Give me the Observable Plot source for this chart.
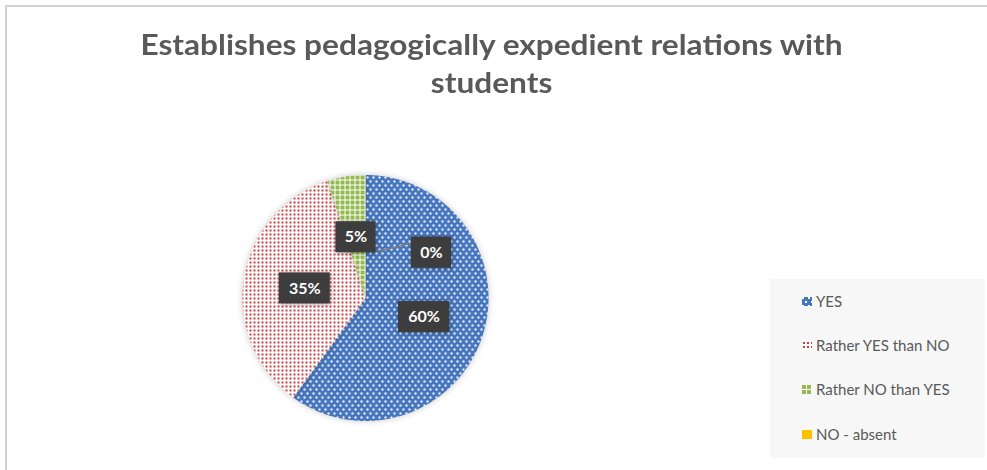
<!DOCTYPE html>
<html><head><meta charset="utf-8">
<script src="https://cdn.jsdelivr.net/npm/d3@7"></script>
<script src="https://cdn.jsdelivr.net/npm/@observablehq/plot@0.6"></script>
<style>
html,body{margin:0;padding:0;background:#fff;}
#wrap{position:relative;width:987px;height:470px;overflow:hidden;font-family:Lato,sans-serif;}
#frame{position:absolute;left:5px;top:5px;width:1000px;height:500px;border-left:2px solid #d2d2d2;border-top:2px solid #d2d2d2;}
#chart{position:absolute;left:0;top:0;}
#title{position:absolute;left:0;width:983px;top:25px;text-align:center;font-weight:700;font-size:29px;line-height:38px;color:#595959;transform:scaleX(1.09);transform-origin:491px 0;}
#legend{position:absolute;left:770px;top:279px;width:215px;height:179px;background:#f7f7f7;}
.item{position:absolute;left:32px;height:20px;display:flex;align-items:center;font-size:15px;color:#595959;white-space:nowrap;}
.item svg{margin-right:4px;}
</style></head>
<body>
<svg width="0" height="0" style="position:absolute">
  <defs>
    <pattern id="pYes" width="6" height="8" patternUnits="userSpaceOnUse">
      <rect width="6" height="8" fill="#4676bd"/>
      <rect x="0" y="0" width="2" height="2" fill="#ffffff"/>
      <rect x="3" y="4" width="2" height="2" fill="#ffffff"/>
    </pattern>
    <pattern id="pRyes" width="4" height="4" patternUnits="userSpaceOnUse">
      <rect width="4" height="4" fill="#ffffff"/>
      <rect x="1" y="1" width="2" height="2" fill="#cc3b3b"/>
    </pattern>
    <pattern id="pRno" width="5" height="5" patternUnits="userSpaceOnUse">
      <rect width="5" height="5" fill="#ffffff"/>
      <rect x="0" y="0" width="4" height="4" fill="#93b94f"/>
    </pattern>
    <pattern id="pNo" width="4" height="4" patternUnits="userSpaceOnUse">
      <rect width="4" height="4" fill="#ffc000"/>
    </pattern>
  </defs>
</svg>
<div id="wrap">
  <div id="frame"></div>
  <div id="chart"></div>
  <div id="title">Establishes pedagogically expedient relations with<br>students</div>
  <div id="legend"></div>
</div>
<script>
// ---- data ----
const categories = ["YES", "Rather YES than NO", "Rather NO than YES", "NO - absent"];
const percents = [60, 35, 5, 0];
const labelTexts = ["60%", "35%", "5%", "0%"];

// ---- styles ----
const fills = {"YES": "url(#pYes)", "Rather YES than NO": "url(#pRyes)", "Rather NO than YES": "url(#pRno)", "NO - absent": "url(#pNo)"};
const CX = 365, CY = 297.5, R = 123;
const zeroShift = {dx: 66, dy: 16};

let cum = 0;
const slices = categories.map((c, i) => {
  const a0 = cum / 100 * 2 * Math.PI; cum += percents[i];
  const a1 = cum / 100 * 2 * Math.PI;
  const mid = (a0 + a1) / 2;
  return {cat: c, value: percents[i], label: labelTexts[i], a0, a1, lx: 0.5 * Math.sin(mid), ly: 0.5 * Math.cos(mid)};
});

function polygon(s) {
  const n = Math.max(2, Math.ceil((s.a1 - s.a0) / (Math.PI / 360)));
  const pts = [{cat: s.cat, x: 0, y: 0}];
  for (let k = 0; k <= n; k++) {
    const a = s.a0 + (s.a1 - s.a0) * k / n;
    pts.push({cat: s.cat, x: Math.sin(a), y: Math.cos(a)});
  }
  pts.push({cat: s.cat, x: 0, y: 0});
  return pts;
}

const marks = [];
slices.filter(s => s.value > 0).forEach(s => {
  marks.push(Plot.line(polygon(s), {x: "x", y: "y", fill: fills[s.cat], stroke: "none"}));
});
// leader line for the zero label
slices.filter(s => s.value === 0).forEach(s => {
  marks.push(Plot.link([s], {
    x1: d => 0.38 * Math.sin(d.a0), y1: d => 0.38 * Math.cos(d.a0),
    x2: d => d.lx + zeroShift.dx / R, y2: d => d.ly - (zeroShift.dy - 11) / R,
    curve: "bump-x", stroke: "#7f7f7f", strokeWidth: 1.5
  }));
});
slices.forEach(s => {
  const w = 11 * s.label.length + 18, h = 31;
  const shift = s.value === 0 ? zeroShift : {dx: 0, dy: 0};
  marks.push(Plot.rect([s], {x1: "lx", x2: "lx", y1: "ly", y2: "ly",
    insetLeft: -w / 2, insetRight: -w / 2, insetTop: -h / 2, insetBottom: -h / 2,
    dx: shift.dx, dy: shift.dy, fill: "#3d3d3d"}));
  marks.push(Plot.text([s], {x: "lx", y: "ly", text: "label", dx: shift.dx, dy: shift.dy,
    fill: "white", fontSize: 16, fontWeight: 700, fontFamily: "Lato, sans-serif"}));
});

const chart = Plot.plot({
  width: 987, height: 470, margin: 0,
  style: {background: "transparent", overflow: "visible"},
  x: {domain: [-1, 1], range: [CX - R, CX + R], axis: null},
  y: {domain: [-1, 1], range: [CY + R, CY - R], axis: null},
  marks
});
document.getElementById("chart").appendChild(chart);
d3.select(chart).selectAll('g[aria-label="line"]').style("filter", "drop-shadow(0 0 3px rgba(0,0,0,0.22))");
d3.select(chart).selectAll('g[aria-label="rect"] rect').style("filter", "drop-shadow(1px 1px 2px rgba(0,0,0,0.35))");

// legend
const rowsY = [22, 66, 110, 155];
const legend = d3.select("#legend");
categories.forEach((c, i) => {
  const it = legend.append("div").attr("class", "item").style("top", (rowsY[i] - 10) + "px");
  const sw = it.append("svg").attr("width", 10).attr("height", 9);
  sw.append("rect").attr("width", 10).attr("height", 9).attr("fill", fills[c]);
  it.append("span").text(c);
});
</script>
</body></html>
